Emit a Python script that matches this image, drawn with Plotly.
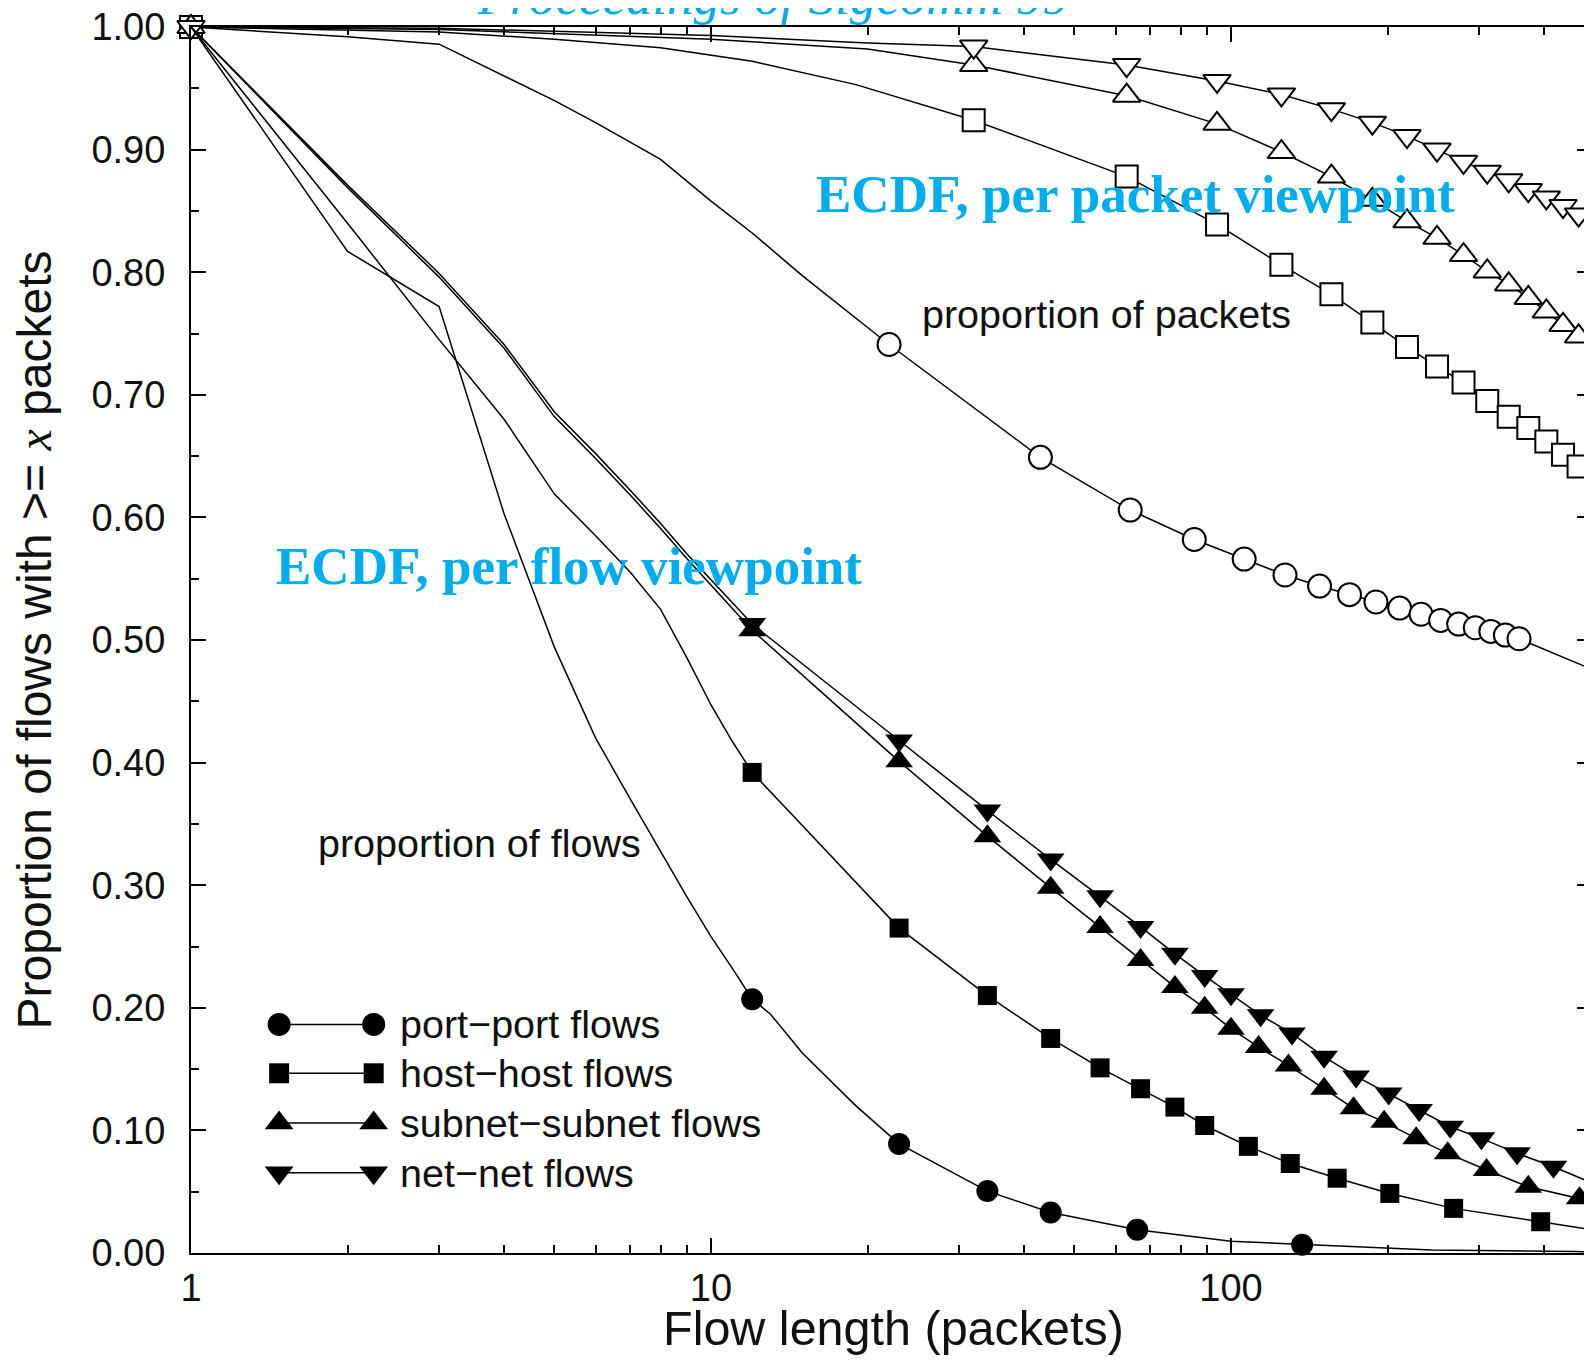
import plotly.graph_objects as go

# ---------------- data ----------------
# per-flow viewpoint (filled markers)
pp_x = [1, 2, 3, 4, 5, 6, 7, 8, 9, 10, 11, 12, 13, 15, 19, 23, 34, 45, 66, 100, 137, 174, 243, 460, 495]
pp_y = [1.0, 0.817, 0.772, 0.603, 0.494, 0.42, 0.37, 0.327, 0.29, 0.258, 0.232, 0.207, 0.195, 0.163, 0.12,
        0.089, 0.0505, 0.033, 0.019, 0.0095, 0.0068, 0.005, 0.0025, 0.0012, 0.001]
pp_mx = [12, 23, 34, 45, 66, 137]
pp_my = [0.207, 0.089, 0.0505, 0.033, 0.019, 0.0068]

hh_x = [1, 2, 3, 4, 5, 6, 7, 8, 9, 10, 11, 12, 14, 16, 18, 20, 23, 34, 45, 56, 67, 78, 89, 108, 130, 160,
        202, 268, 394, 495]
hh_y = [1.0, 0.84, 0.745, 0.68, 0.619, 0.585, 0.555, 0.525, 0.485, 0.447, 0.417, 0.392, 0.362, 0.336, 0.313,
        0.292, 0.265, 0.210, 0.175, 0.151, 0.134, 0.119, 0.104, 0.087, 0.073, 0.061, 0.0486, 0.0364, 0.0255, 0.019]
hh_mx = [12, 23, 34, 45, 56, 67, 78, 89, 108, 130, 160, 202, 268, 394]
hh_my = [0.392, 0.265, 0.210, 0.175, 0.151, 0.134, 0.119, 0.104, 0.087, 0.073, 0.061, 0.0486, 0.0364, 0.0255]

sn_x = [1, 2, 3, 4, 5, 6, 7, 8, 9, 10, 11, 12, 23, 34, 45, 56, 67, 78, 89, 100, 113, 129, 151, 172, 197,
        227, 261, 310, 373, 468, 495]
sn_y = [1.0, 0.869, 0.796, 0.738, 0.682, 0.648, 0.618, 0.591, 0.566, 0.545, 0.526, 0.508, 0.401, 0.340,
        0.298, 0.266, 0.239, 0.217, 0.200, 0.183, 0.168, 0.153, 0.134, 0.118, 0.107, 0.0935, 0.0813, 0.0677,
        0.054, 0.0446, 0.042]
sn_mx = [12, 23, 34, 45, 56, 67, 78, 89, 100, 113, 129, 151, 172, 197, 227, 261, 310, 373, 468]
sn_my = [0.508, 0.401, 0.340, 0.298, 0.266, 0.239, 0.217, 0.200, 0.183, 0.168, 0.153, 0.134, 0.118, 0.107,
         0.0935, 0.0813, 0.0677, 0.054, 0.0446]

nn_x = [1, 2, 3, 4, 5, 6, 7, 8, 9, 10, 11, 12, 23, 34, 45, 56, 67, 78, 89, 100, 114, 131, 151, 174, 201,
        230, 264, 303, 355, 417, 495]
nn_y = [1.0, 0.871, 0.799, 0.741, 0.686, 0.652, 0.622, 0.595, 0.57, 0.549, 0.53, 0.513, 0.418, 0.361,
        0.321, 0.291, 0.266, 0.244, 0.226, 0.211, 0.194, 0.179, 0.160, 0.144, 0.130, 0.1166, 0.103, 0.0935,
        0.0813, 0.0703, 0.057]
nn_mx = [12, 23, 34, 45, 56, 67, 78, 89, 100, 114, 131, 151, 174, 201, 230, 264, 303, 355, 417]
nn_my = [0.513, 0.418, 0.361, 0.321, 0.291, 0.266, 0.244, 0.226, 0.211, 0.194, 0.179, 0.160, 0.144, 0.130,
         0.1166, 0.103, 0.0935, 0.0813, 0.0703]

# per-packet viewpoint (hollow markers)
ppk_x = [1, 2, 3, 4, 5, 6, 8, 10, 12, 15, 18, 22, 43, 64, 85, 106, 127, 148, 169, 190, 211, 232, 253, 274,
         295, 316, 337, 358, 495]
ppk_y = [1.0, 0.992, 0.986, 0.960, 0.940, 0.922, 0.892, 0.858, 0.832, 0.797, 0.770, 0.741, 0.649, 0.606,
         0.582, 0.566, 0.553, 0.544, 0.537, 0.531, 0.526, 0.521, 0.516, 0.513, 0.510, 0.507, 0.504, 0.501, 0.476]
ppk_mx = [22, 43, 64, 85, 106, 127, 148, 169, 190, 211, 232, 253, 274, 295, 316, 337, 358]
ppk_my = [0.741, 0.649, 0.606, 0.582, 0.566, 0.553, 0.544, 0.537, 0.531, 0.526, 0.521, 0.516, 0.513, 0.510,
          0.507, 0.504, 0.501]

pk_mx = [1, 32, 63, 94, 125, 156, 187, 218, 249, 280, 311, 342, 373, 404, 435, 466, 497]

hhk_x = [1, 3, 5, 7, 8, 12, 19, 32, 63, 94, 125, 156, 187, 218, 249, 280, 311, 342, 373, 404, 435, 466, 497]
hhk_y = [1.0, 0.996, 0.990, 0.985, 0.983, 0.972, 0.953, 0.924, 0.878, 0.839, 0.806, 0.782, 0.759, 0.739,
         0.723, 0.710, 0.695, 0.682, 0.673, 0.662, 0.651, 0.6415, 0.631]
hhk_my = [1.0, 0.924, 0.878, 0.839, 0.806, 0.782, 0.759, 0.739, 0.723, 0.710, 0.695, 0.682, 0.673, 0.662,
          0.651, 0.6415, 0.631]

snk_x = [1, 3, 10, 20, 32, 63, 94, 125, 156, 187, 218, 249, 280, 311, 342, 373, 404, 435, 466, 497]
snk_y = [1.0, 0.998, 0.990, 0.982, 0.969, 0.944, 0.921, 0.898, 0.878, 0.859, 0.8415, 0.828, 0.814,
         0.8006, 0.790, 0.779, 0.768, 0.757, 0.7476, 0.737]
snk_my = [1.0, 0.969, 0.944, 0.921, 0.898, 0.878, 0.859, 0.8415, 0.828, 0.814, 0.8006, 0.790, 0.779, 0.768,
          0.757, 0.7476, 0.737]

nnk_x = [1, 3, 10, 20, 32, 63, 94, 125, 156, 187, 218, 249, 280, 311, 342, 373, 404, 435, 466, 497]
nnk_y = [1.0, 0.999, 0.993, 0.987, 0.984, 0.969, 0.956, 0.945, 0.933, 0.922, 0.911, 0.900, 0.890,
         0.882, 0.875, 0.867, 0.861, 0.854, 0.847, 0.840]
nnk_my = [1.0, 0.984, 0.969, 0.956, 0.945, 0.933, 0.922, 0.911, 0.900, 0.890, 0.882, 0.875, 0.867, 0.861,
          0.854, 0.847, 0.840]

legend_labels = ["port\u2212port flows", "host\u2212host flows", "subnet\u2212subnet flows", "net\u2212net flows"]
legend_symbols = ["circle", "square", "triangle-up", "triangle-down"]

y_ticks = [0.0, 0.1, 0.2, 0.3, 0.4, 0.5, 0.6, 0.7, 0.8, 0.9, 1.0]
x_ticks = [1, 10, 100]
x_minor = [2, 3, 4, 5, 6, 7, 8, 9, 20, 30, 40, 50, 60, 70, 80, 90, 200, 300, 400, 500, 600, 700, 800, 900]

# ---------------- figure ----------------
SANS = "Liberation Sans, Arial, sans-serif"
SERIF = "Liberation Serif, Times New Roman, serif"
CYAN = "#00AEEF"
TXT = "#111"
LW = 1.5

fig = go.Figure()

def add_series(lx, ly, mx, my, symbol, size, filled):
    fig.add_trace(go.Scatter(x=lx, y=ly, mode="lines", line=dict(color="black", width=LW),
                             showlegend=False, hoverinfo="skip"))
    if filled:
        mk = dict(symbol=symbol, size=size, color="black", line=dict(width=0))
    else:
        mk = dict(symbol=symbol, size=size, color="white", line=dict(color="black", width=2))
    fig.add_trace(go.Scatter(x=mx, y=my, mode="markers", marker=mk, cliponaxis=False,
                             showlegend=False, hoverinfo="skip"))

# per-packet (hollow)
add_series(ppk_x, ppk_y, ppk_mx, ppk_my, "circle", 23, False)
add_series(hhk_x, hhk_y, pk_mx, hhk_my, "square", 22, False)
add_series(snk_x, snk_y, pk_mx, snk_my, "triangle-up", 24, False)
add_series(nnk_x, nnk_y, pk_mx, nnk_my, "triangle-down", 24, False)
# per-flow (filled)
add_series(pp_x, pp_y, pp_mx, pp_my, "circle", 22, True)
add_series(hh_x, hh_y, hh_mx, hh_my, "square", 19, True)
add_series(sn_x, sn_y, sn_mx, sn_my, "triangle-up", 24, True)
add_series(nn_x, nn_y, nn_mx, nn_my, "triangle-down", 24, True)

# custom legend keys (marker - line - marker) drawn on an overlay axis pair in [0,1]
leg_x0, leg_x1 = 0.0629, 0.1304
leg_ys = [0.1864, 0.1466, 0.1060, 0.0654]
leg_sizes = [23, 20, 25, 25]
for lab, sym, yy, sz in zip(legend_labels, legend_symbols, leg_ys, leg_sizes):
    fig.add_trace(go.Scatter(x=[leg_x0, leg_x1], y=[yy, yy], mode="lines+markers", xaxis="x2", yaxis="y2",
                             line=dict(color="black", width=LW),
                             marker=dict(symbol=sym, size=sz, color="black", line=dict(width=0)),
                             cliponaxis=False, showlegend=False, hoverinfo="skip"))
    fig.add_annotation(x=0.1478, y=yy, xref="x2", yref="y2", text=lab, showarrow=False,
                       xanchor="left", yanchor="middle", font=dict(family=SANS, size=39.5, color=TXT))

# text annotations
fig.add_annotation(x=0.5203, y=0.7656, xref="paper", yref="paper", text="proportion of packets",
                   showarrow=False, xanchor="left", yanchor="middle", font=dict(family=SANS, size=39.5, color=TXT))
fig.add_annotation(x=0.0892, y=0.3347, xref="paper", yref="paper", text="proportion of flows",
                   showarrow=False, xanchor="left", yanchor="middle", font=dict(family=SANS, size=39.5, color=TXT))
fig.add_annotation(x=0.6743, y=0.8641, xref="paper", yref="paper", text="<b>ECDF, per packet viewpoint</b>",
                   showarrow=False, xanchor="center", yanchor="middle", font=dict(family=SERIF, size=53, color=CYAN))
fig.add_annotation(x=0.2696, y=0.5605, xref="paper", yref="paper", text="<b>ECDF, per flow viewpoint</b>",
                   showarrow=False, xanchor="center", yanchor="middle", font=dict(family=SERIF, size=53, color=CYAN))
fig.add_annotation(x=0.4151, y=1.0254, xref="paper", yref="paper", text="<i>Proceedings of Sigcomm 99</i>",
                   showarrow=False, xanchor="center", yanchor="middle", font=dict(family=SERIF, size=53, color=CYAN))
# x-axis title (placed as an annotation so it may sit as low as in the reference)
fig.add_annotation(x=0.5014, y=-0.0608, xref="paper", yref="paper", text="Flow length (packets)",
                   showarrow=False, xanchor="center", yanchor="middle", font=dict(family=SANS, size=48.5, color=TXT))

ytitle = ("Proportion of flows with &gt;= <span style=\"font-family:'Liberation Serif'\"><i>x</i></span> packets")

# The page body has an 8px margin, so the figure is sized to end exactly at the window edge.
fig.update_layout(
    width=1584, height=1348,
    margin=dict(l=183, r=0, t=19.4, b=103.1, autoexpand=False),
    paper_bgcolor="white", plot_bgcolor="white",
    showlegend=False,
    xaxis=dict(
        type="log", range=[0, 2.6942],
        tickmode="array", tickvals=x_ticks, ticktext=[str(v) for v in x_ticks],
        ticks="inside", ticklen=15, tickwidth=1.5, tickcolor="black",
        minor=dict(tickmode="array", tickvals=x_minor, ticks="inside", ticklen=8, tickwidth=1.5,
                   tickcolor="black", showgrid=False),
        showline=True, linecolor="black", linewidth=2, mirror="ticks",
        showgrid=False, zeroline=False, ticklabeloverflow="allow",
        tickfont=dict(family=SANS, size=38, color=TXT),
    ),
    yaxis=dict(
        range=[0, 1], tickmode="array", tickvals=y_ticks, tickformat=".2f",
        ticks="inside", ticklen=15, tickwidth=1.5, tickcolor="black",
        minor=dict(dtick=0.05, ticks="inside", ticklen=8, tickwidth=1.5, tickcolor="black", showgrid=False),
        showline=True, linecolor="black", linewidth=2, mirror="ticks",
        showgrid=False, zeroline=False, ticklabeloverflow="allow",
        tickfont=dict(family=SANS, size=38, color=TXT),
        ticklabelstandoff=16,
        title=dict(text=ytitle, font=dict(family=SANS, size=48, color=TXT), standoff=28),
    ),
    xaxis2=dict(overlaying="x", anchor="y2", range=[0, 1], visible=False),
    yaxis2=dict(overlaying="y", anchor="x2", range=[0, 1], visible=False),
)

fig.write_html("out.html")
